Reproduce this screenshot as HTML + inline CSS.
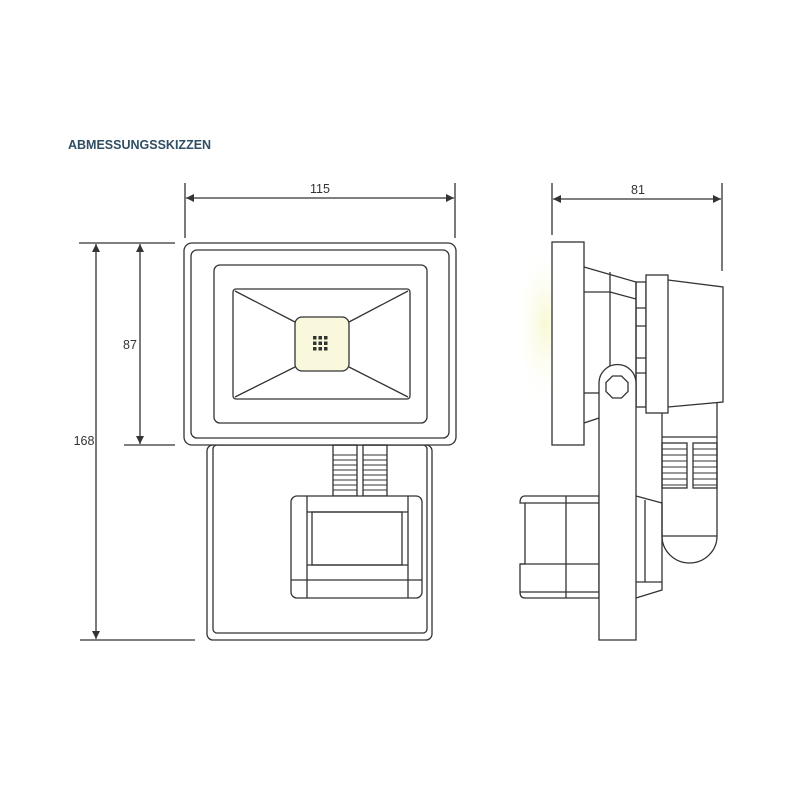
<!DOCTYPE html>
<html><head><style>
html,body{margin:0;padding:0;background:#fff;}
svg{display:block;}
</style></head><body>
<svg width="800" height="800" viewBox="0 0 800 800" xmlns="http://www.w3.org/2000/svg">
<defs>
<radialGradient id="glow" cx="0.5" cy="0.5" r="0.5">
<stop offset="0" stop-color="#f7f6c8" stop-opacity="0.8"/>
<stop offset="1" stop-color="#ffffff" stop-opacity="0"/>
</radialGradient>
<marker id="ar" viewBox="0 0 10 10" refX="10" refY="5" markerWidth="14" markerHeight="8" markerUnits="userSpaceOnUse" orient="auto-start-reverse">
<path d="M0,0 L10,5 L0,10 z" fill="#333"/>
</marker>
</defs>
<rect width="800" height="800" fill="#fff"/>
<ellipse cx="545" cy="325" rx="32" ry="85" fill="url(#glow)"/>
<text x="68" y="149" font-family="Liberation Sans, sans-serif" font-size="12.5" font-weight="bold" fill="#2f4d63">ABMESSUNGSSKIZZEN</text>

<g stroke="#333" stroke-width="1.3" fill="none">
<line x1="185" y1="183" x2="185" y2="238"/>
<line x1="455" y1="183" x2="455" y2="238"/>
<line x1="186" y1="198" x2="454" y2="198" marker-start="url(#ar)" marker-end="url(#ar)"/>
<line x1="552" y1="183" x2="552" y2="235"/>
<line x1="722" y1="183" x2="722" y2="271"/>
<line x1="553" y1="199" x2="721" y2="199" marker-start="url(#ar)" marker-end="url(#ar)"/>
<line x1="79" y1="243" x2="175" y2="243"/>
<line x1="124" y1="445" x2="175" y2="445"/>
<line x1="80" y1="640" x2="195" y2="640"/>
<line x1="96" y1="244" x2="96" y2="639" marker-start="url(#ar)" marker-end="url(#ar)"/>
<line x1="140" y1="244" x2="140" y2="444" marker-start="url(#ar)" marker-end="url(#ar)"/>

<rect x="207" y="445" width="225" height="195" rx="6"/>
<rect x="213" y="445" width="214" height="188" rx="4"/>
<rect x="184" y="243" width="272" height="202" rx="8" fill="#fff"/>
<rect x="191" y="250" width="258" height="188" rx="6"/>
<rect x="214" y="265" width="213" height="158" rx="6"/>
<rect x="233" y="289" width="177" height="110" rx="3"/>
<line x1="235" y1="291" x2="295" y2="322"/>
<line x1="408" y1="291" x2="349" y2="322"/>
<line x1="235" y1="397" x2="295" y2="367"/>
<line x1="408" y1="397" x2="349" y2="367"/>
<rect x="295" y="317" width="54" height="54" rx="7" fill="#f9f8dc"/>
<rect x="333" y="445" width="24" height="51"/>
<rect x="363" y="445" width="24" height="51"/>
<path d="M333 455H357M333 460H357M333 465H357M333 470H357M333 475H357M333 480H357M333 485H357M333 490H357M363 455H387M363 460H387M363 465H387M363 470H387M363 475H387M363 480H387M363 485H387M363 490H387" stroke-width="1"/>
<rect x="291" y="496" width="131" height="102" rx="6" fill="#fff"/>
<line x1="307" y1="496" x2="307" y2="598"/>
<line x1="408" y1="496" x2="408" y2="598"/>
<line x1="307" y1="512" x2="408" y2="512"/>
<line x1="307" y1="565" x2="408" y2="565"/>
<line x1="291" y1="580" x2="422" y2="580"/>
<rect x="312" y="512" width="90" height="53"/>

<rect x="552" y="242" width="32" height="203" fill="#fff"/>
<path d="M584 267 L636 282 L636 407"/>
<line x1="610" y1="272" x2="610" y2="410"/>
<line x1="584" y1="292" x2="610" y2="292"/>
<line x1="610" y1="292" x2="636" y2="299"/>
<line x1="584" y1="393" x2="599" y2="393"/>
<line x1="584" y1="423" x2="599" y2="418"/>
<rect x="636" y="282" width="10" height="125"/>
<path d="M636 308H646M636 326H646M636 358H646M636 373H646"/>
<path d="M668 280 L723 287 L723 402 L668 407"/>
<path d="M662 407 V536 A27.5 27 0 0 0 717 536 V402"/>
<line x1="662" y1="437" x2="717" y2="437"/>
<line x1="662" y1="536" x2="717" y2="536"/>
<rect x="662" y="443" width="25" height="45"/>
<rect x="693" y="443" width="24" height="45"/>
<path d="M662 449H687M662 455H687M662 461H687M662 467H687M662 473H687M662 479H687M662 485H687M693 449H717M693 455H717M693 461H717M693 467H717M693 473H717M693 479H717M693 485H717" stroke-width="1"/>
<rect x="646" y="275" width="22" height="138" fill="#fff"/>
<path d="M525 496 H599 V598 H525 Q520 598 520 592 V564 H525 V503 H520 Q520 496 525 496Z"/>
<line x1="525" y1="503" x2="599" y2="503"/>
<line x1="520" y1="564" x2="599" y2="564"/>
<line x1="520" y1="592" x2="599" y2="592"/>
<line x1="566" y1="496" x2="566" y2="598"/>
<path d="M636 496 L662 503 V590 L636 598"/>
<line x1="645" y1="500" x2="645" y2="582"/>
<line x1="636" y1="582" x2="662" y2="582"/>
<path d="M599 640 V383 A18.5 18.5 0 0 1 636 383 V640 Z" fill="#fff"/>
<polygon points="612.5,376 621.5,376 628,382.5 628,391.5 621.5,398 612.5,398 606,391.5 606,382.5"/>
</g>
<g fill="#333">
<rect x="313" y="336" width="3.5" height="3.5"/><rect x="318.5" y="336" width="3.5" height="3.5"/><rect x="324" y="336" width="3.5" height="3.5"/>
<rect x="313" y="341.5" width="3.5" height="3.5"/><rect x="318.5" y="341.5" width="3.5" height="3.5"/><rect x="324" y="341.5" width="3.5" height="3.5"/>
<rect x="313" y="347" width="3.5" height="3.5"/><rect x="318.5" y="347" width="3.5" height="3.5"/><rect x="324" y="347" width="3.5" height="3.5"/>
</g>
<g font-family="Liberation Sans, sans-serif" font-size="12.5" fill="#333">
<text x="320" y="193" text-anchor="middle">115</text>
<text x="638" y="194" text-anchor="middle">81</text>
<text x="130" y="349" text-anchor="middle">87</text>
<text x="84" y="445" text-anchor="middle">168</text>
</g>
</svg>
</body></html>
